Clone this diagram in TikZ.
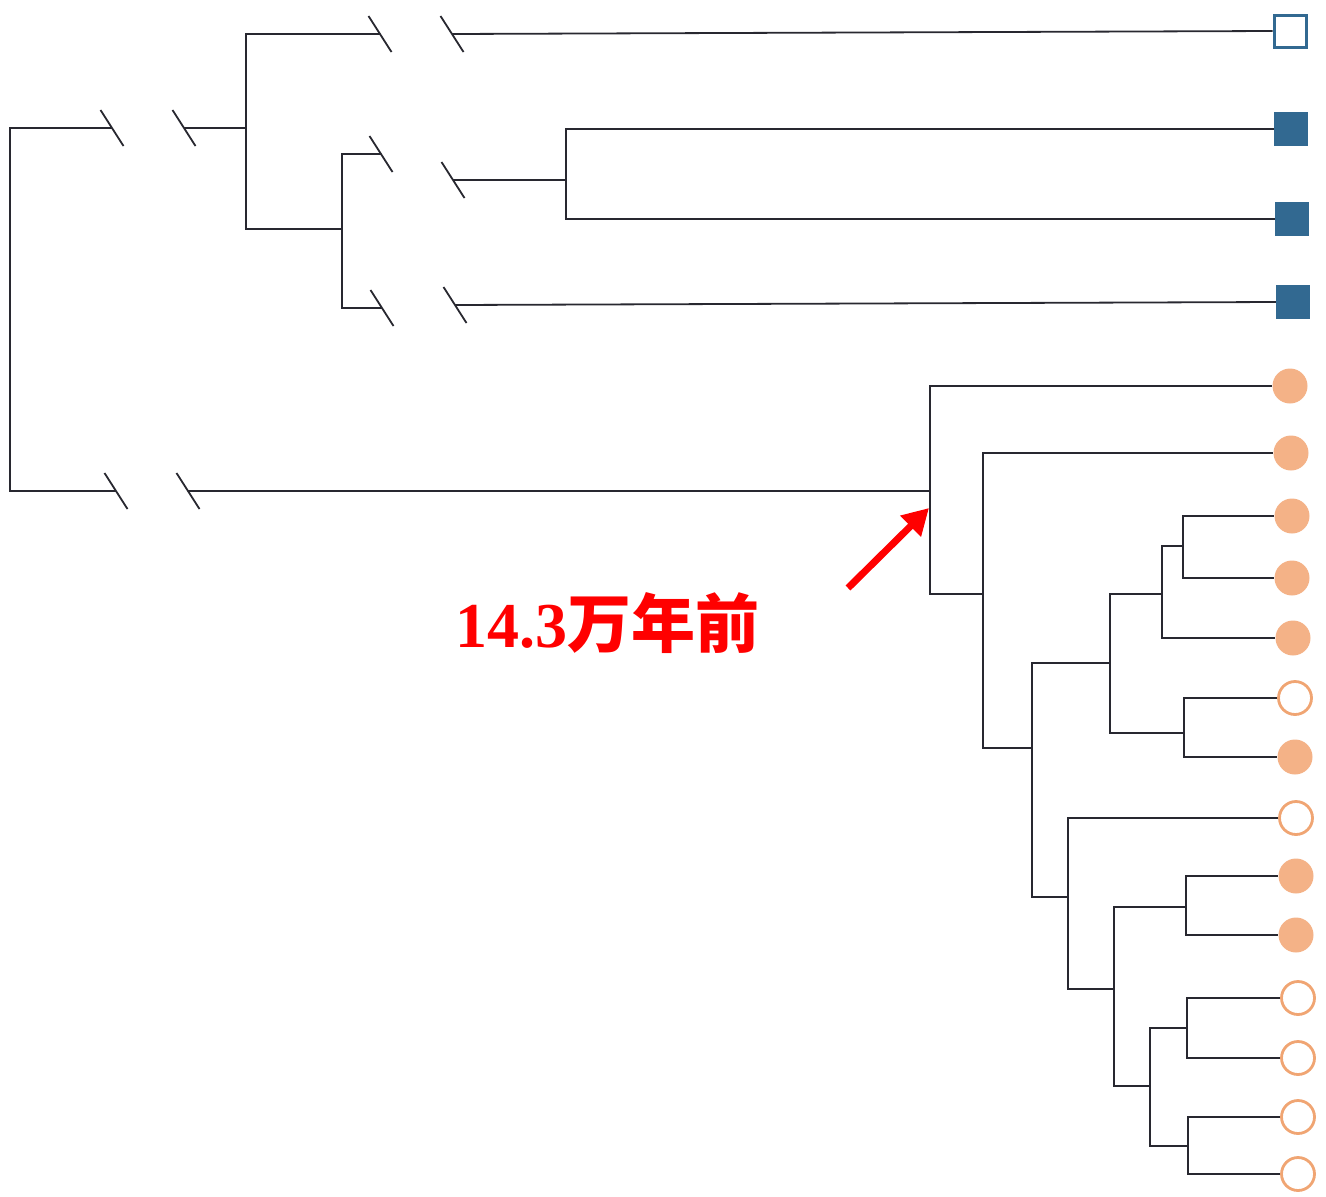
\documentclass[tikz,border=0pt]{standalone}
\usepackage{fontspec}
\setmainfont{Liberation Serif}
\newfontfamily\cjk{Noto Sans CJK SC}
\usetikzlibrary{arrows.meta}
\definecolor{treeln}{RGB}{40,40,48}
\definecolor{sqblue}{RGB}{50,105,145}
\definecolor{orfill}{RGB}{244,178,135}
\definecolor{orline}{RGB}{240,165,115}
\tikzset{
  tree/.style={draw=treeln, line width=1.8pt},
  brkmark/.style={draw=treeln, line width=1.8pt},
  sqopen/.style={draw=sqblue, line width=3pt, fill=white, minimum width=32pt, minimum height=32pt, inner sep=0pt, shape=rectangle},
  sqfull/.style={draw=none, fill=sqblue, minimum width=34pt, minimum height=34pt, inner sep=0pt, shape=rectangle},
  cfull/.style={draw=none, fill=orfill, circle, minimum size=35pt, inner sep=0pt},
  copen/.style={draw=orline, line width=2.8pt, fill=white, circle, minimum size=33pt, inner sep=0pt},
}
\newcommand\brkat[1]{\draw[brkmark] (#1) ++(-11.5,-18) -- ++(23,36);}
\begin{document}
\begin{tikzpicture}[x=1pt,y=-1pt]
\useasboundingbox (0,0) rectangle (1326,1197);
% leaves: squares
\node[sqopen] (s1) at (1290,31) {};
\node[sqfull] (s2) at (1291,129) {};
\node[sqfull] (s3) at (1292,219) {};
\node[sqfull] (s4) at (1293,302) {};
% leaves: circles
\node[cfull] (c1) at (1290,386) {};
\node[cfull] (c2) at (1291,453) {};
\node[cfull] (c3) at (1292,516) {};
\node[cfull] (c4) at (1292,578) {};
\node[cfull] (c5) at (1293,638) {};
\node[copen] (c6) at (1295,698) {};
\node[cfull] (c7) at (1295,757) {};
\node[copen] (c8) at (1296,818) {};
\node[cfull] (c9) at (1296,876) {};
\node[cfull] (c10) at (1296,935) {};
\node[copen] (c11) at (1298,998) {};
\node[copen] (c12) at (1298,1058) {};
\node[copen] (c13) at (1298,1117) {};
\node[copen] (c14) at (1298,1174) {};
% internal nodes
\coordinate (root) at (10,300);
\coordinate (bA1) at (112,128);
\coordinate (bA2) at (184,128);
\coordinate (A) at (246,128);
\coordinate (b11) at (380,34);
\coordinate (b12) at (452,34);
\coordinate (B) at (342,229);
\coordinate (b21) at (381,154);
\coordinate (b22) at (453,180);
\coordinate (C) at (566,180);
\coordinate (b31) at (382,308);
\coordinate (b32) at (455,305);
\coordinate (bR1) at (116,491);
\coordinate (bR2) at (188,491);
\coordinate (D) at (930,491);
\coordinate (E) at (983,594);
\coordinate (F) at (1032,748);
\coordinate (G) at (1110,663);
\coordinate (I) at (1162,594);
\coordinate (K) at (1183,546);
\coordinate (J) at (1184,733);
\coordinate (H) at (1068,897);
\coordinate (L) at (1114,989);
\coordinate (M) at (1186,907);
\coordinate (N) at (1150,1086);
\coordinate (O) at (1187,1028);
\coordinate (P) at (1188,1146);
% top part
\draw[tree] (root) |- (bA1);
\draw[tree] (bA2) -- (A);
\brkat{bA1}\brkat{bA2}
\draw[tree] (A) |- (b11);
\draw[tree] (b12) -- (s1.west);
\brkat{b11}\brkat{b12}
\draw[tree] (A) |- (B);
\draw[tree] (B) |- (b21);
\draw[tree] (b22) -- (C);
\brkat{b21}\brkat{b22}
\draw[tree] (C) |- (s2.west);
\draw[tree] (C) |- (s3.west);
\draw[tree] (B) |- (b31);
\draw[tree] (b32) -- (s4.west);
\brkat{b31}\brkat{b32}
% bottom part
\draw[tree] (root) |- (bR1);
\draw[tree] (bR2) -- (D);
\brkat{bR1}\brkat{bR2}
\draw[tree] (D) |- (c1.west);
\draw[tree] (D) |- (E);
\draw[tree] (E) |- (c2.west);
\draw[tree] (E) |- (F);
\draw[tree] (F) |- (G);
\draw[tree] (F) |- (H);
\draw[tree] (G) |- (I);
\draw[tree] (G) |- (J);
\draw[tree] (I) |- (K);
\draw[tree] (I) |- (c5.west);
\draw[tree] (K) |- (c3.west);
\draw[tree] (K) |- (c4.west);
\draw[tree] (J) |- (c6.west);
\draw[tree] (J) |- (c7.west);
\draw[tree] (H) |- (c8.west);
\draw[tree] (H) |- (L);
\draw[tree] (L) |- (M);
\draw[tree] (L) |- (N);
\draw[tree] (M) |- (c9.west);
\draw[tree] (M) |- (c10.west);
\draw[tree] (N) |- (O);
\draw[tree] (N) |- (P);
\draw[tree] (O) |- (c11.west);
\draw[tree] (O) |- (c12.west);
\draw[tree] (P) |- (c13.west);
\draw[tree] (P) |- (c14.west);
% label and arrow
\node[anchor=base west, inner sep=0pt, text=red] (lbl) at (455,647)
  {\fontsize{64}{64}\selectfont\bfseries 14.3{\cjk 万年前}};
\coordinate (arrT) at (848,588);
\coordinate (arrH) at (929,508);
\draw[red, line width=7pt, -{Triangle[length=26pt,width=28pt]}] (arrT) -- (arrH);
\end{tikzpicture}
\end{document}
